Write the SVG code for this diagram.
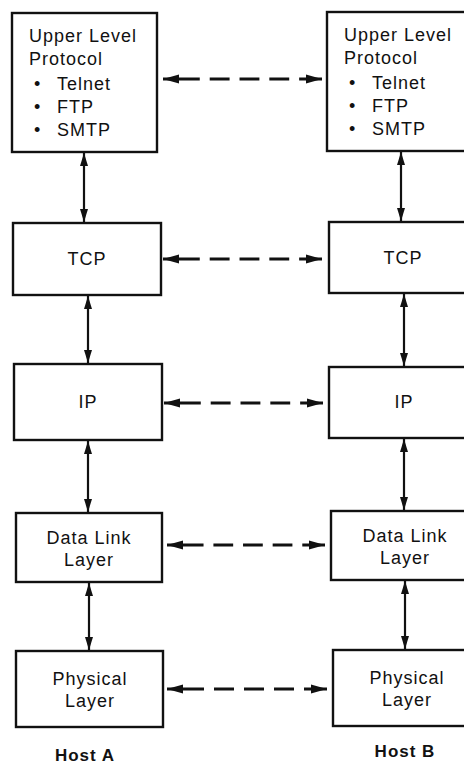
<svg xmlns="http://www.w3.org/2000/svg" width="464" height="764" viewBox="0 0 464 764">
<style>
.box{fill:#fff;stroke:#111;stroke-width:2.4}
text{font-family:"Liberation Sans",Arial,sans-serif;font-size:18px;fill:#111;letter-spacing:1px}
.c{text-anchor:middle}
.host{font-weight:bold;font-size:17px;letter-spacing:1px}
.v{stroke:#111;stroke-width:2.2;fill:none;marker-start:url(#ah);marker-end:url(#ah)}
.d{stroke:#111;stroke-width:2.8;fill:none;marker-start:url(#ah2);marker-end:url(#ah2);stroke-dasharray:37 10 20 10 20 10 20 10 23}
</style>
<defs>
<marker id="ah" markerUnits="userSpaceOnUse" markerWidth="14" markerHeight="10" refX="13" refY="4" orient="auto-start-reverse" viewBox="0 0 14 8">
<path d="M0,0 L13,4 L0,8 z" fill="#111"/>
</marker>
<marker id="ah2" markerUnits="userSpaceOnUse" markerWidth="17" markerHeight="10" refX="16" refY="4.5" orient="auto-start-reverse" viewBox="0 0 17 9">
<path d="M0,0 L16,4.5 L0,9 z" fill="#111"/>
</marker>
</defs>

<g id="connectors">
<line class="v" x1="84" y1="153" x2="84" y2="222"/>
<line class="v" x1="88" y1="296" x2="88" y2="363"/>
<line class="v" x1="88" y1="441" x2="88" y2="512"/>
<line class="v" x1="89" y1="583" x2="89" y2="650"/>
<line class="v" x1="401" y1="152" x2="401" y2="221"/>
<line class="v" x1="404" y1="294" x2="404" y2="366"/>
<line class="v" x1="404" y1="439" x2="404" y2="510"/>
<line class="v" x1="405" y1="581" x2="405" y2="649"/>
<path class="d" pathLength="160" d="M163,79 H322"/>
<path class="d" pathLength="160" d="M163,259 H322"/>
<path class="d" pathLength="160" d="M164,403 H323"/>
<path class="d" pathLength="160" d="M167,545 H325"/>
<path class="d" pathLength="160" d="M167,689 H327"/>
</g>

<g id="a-ulp">
<rect class="box" x="12" y="13" width="145" height="139"/>
<text x="29" y="42">Upper Level</text>
<text x="29" y="65">Protocol</text>
<text x="34" y="90">•</text><text x="57" y="90">Telnet</text>
<text x="34" y="113">•</text><text x="57" y="113">FTP</text>
<text x="34" y="136">•</text><text x="57" y="136">SMTP</text>
</g>
<g id="a-tcp">
<rect class="box" x="13" y="223" width="148" height="72"/>
<text class="c" x="87" y="265">TCP</text>
</g>
<g id="a-ip">
<rect class="box" x="14" y="364" width="148" height="76"/>
<text class="c" x="88" y="408">IP</text>
</g>
<g id="a-dl">
<rect class="box" x="16" y="513" width="146" height="69"/>
<text class="c" x="89" y="544">Data Link</text>
<text class="c" x="89" y="566">Layer</text>
</g>
<g id="a-phy">
<rect class="box" x="16" y="651" width="147" height="76"/>
<text class="c" x="90" y="685">Physical</text>
<text class="c" x="90" y="707">Layer</text>
</g>
<g id="host-a">
<text class="c host" x="85" y="761">Host A</text>
</g>

<g id="b-ulp">
<rect class="box" x="327" y="12" width="150" height="139"/>
<text x="344" y="41">Upper Level</text>
<text x="344" y="64">Protocol</text>
<text x="349" y="89">•</text><text x="372" y="89">Telnet</text>
<text x="349" y="112">•</text><text x="372" y="112">FTP</text>
<text x="349" y="135">•</text><text x="372" y="135">SMTP</text>
</g>
<g id="b-tcp">
<rect class="box" x="329" y="222" width="150" height="71"/>
<text class="c" x="403" y="264">TCP</text>
</g>
<g id="b-ip">
<rect class="box" x="329" y="367" width="150" height="71"/>
<text class="c" x="404" y="408">IP</text>
</g>
<g id="b-dl">
<rect class="box" x="331" y="511" width="150" height="69"/>
<text class="c" x="405" y="542">Data Link</text>
<text class="c" x="405" y="564">Layer</text>
</g>
<g id="b-phy">
<rect class="box" x="333" y="650" width="150" height="76"/>
<text class="c" x="407" y="684">Physical</text>
<text class="c" x="407" y="706">Layer</text>
</g>
<g id="host-b">
<text class="c host" x="405" y="757">Host B</text>
</g>
</svg>
